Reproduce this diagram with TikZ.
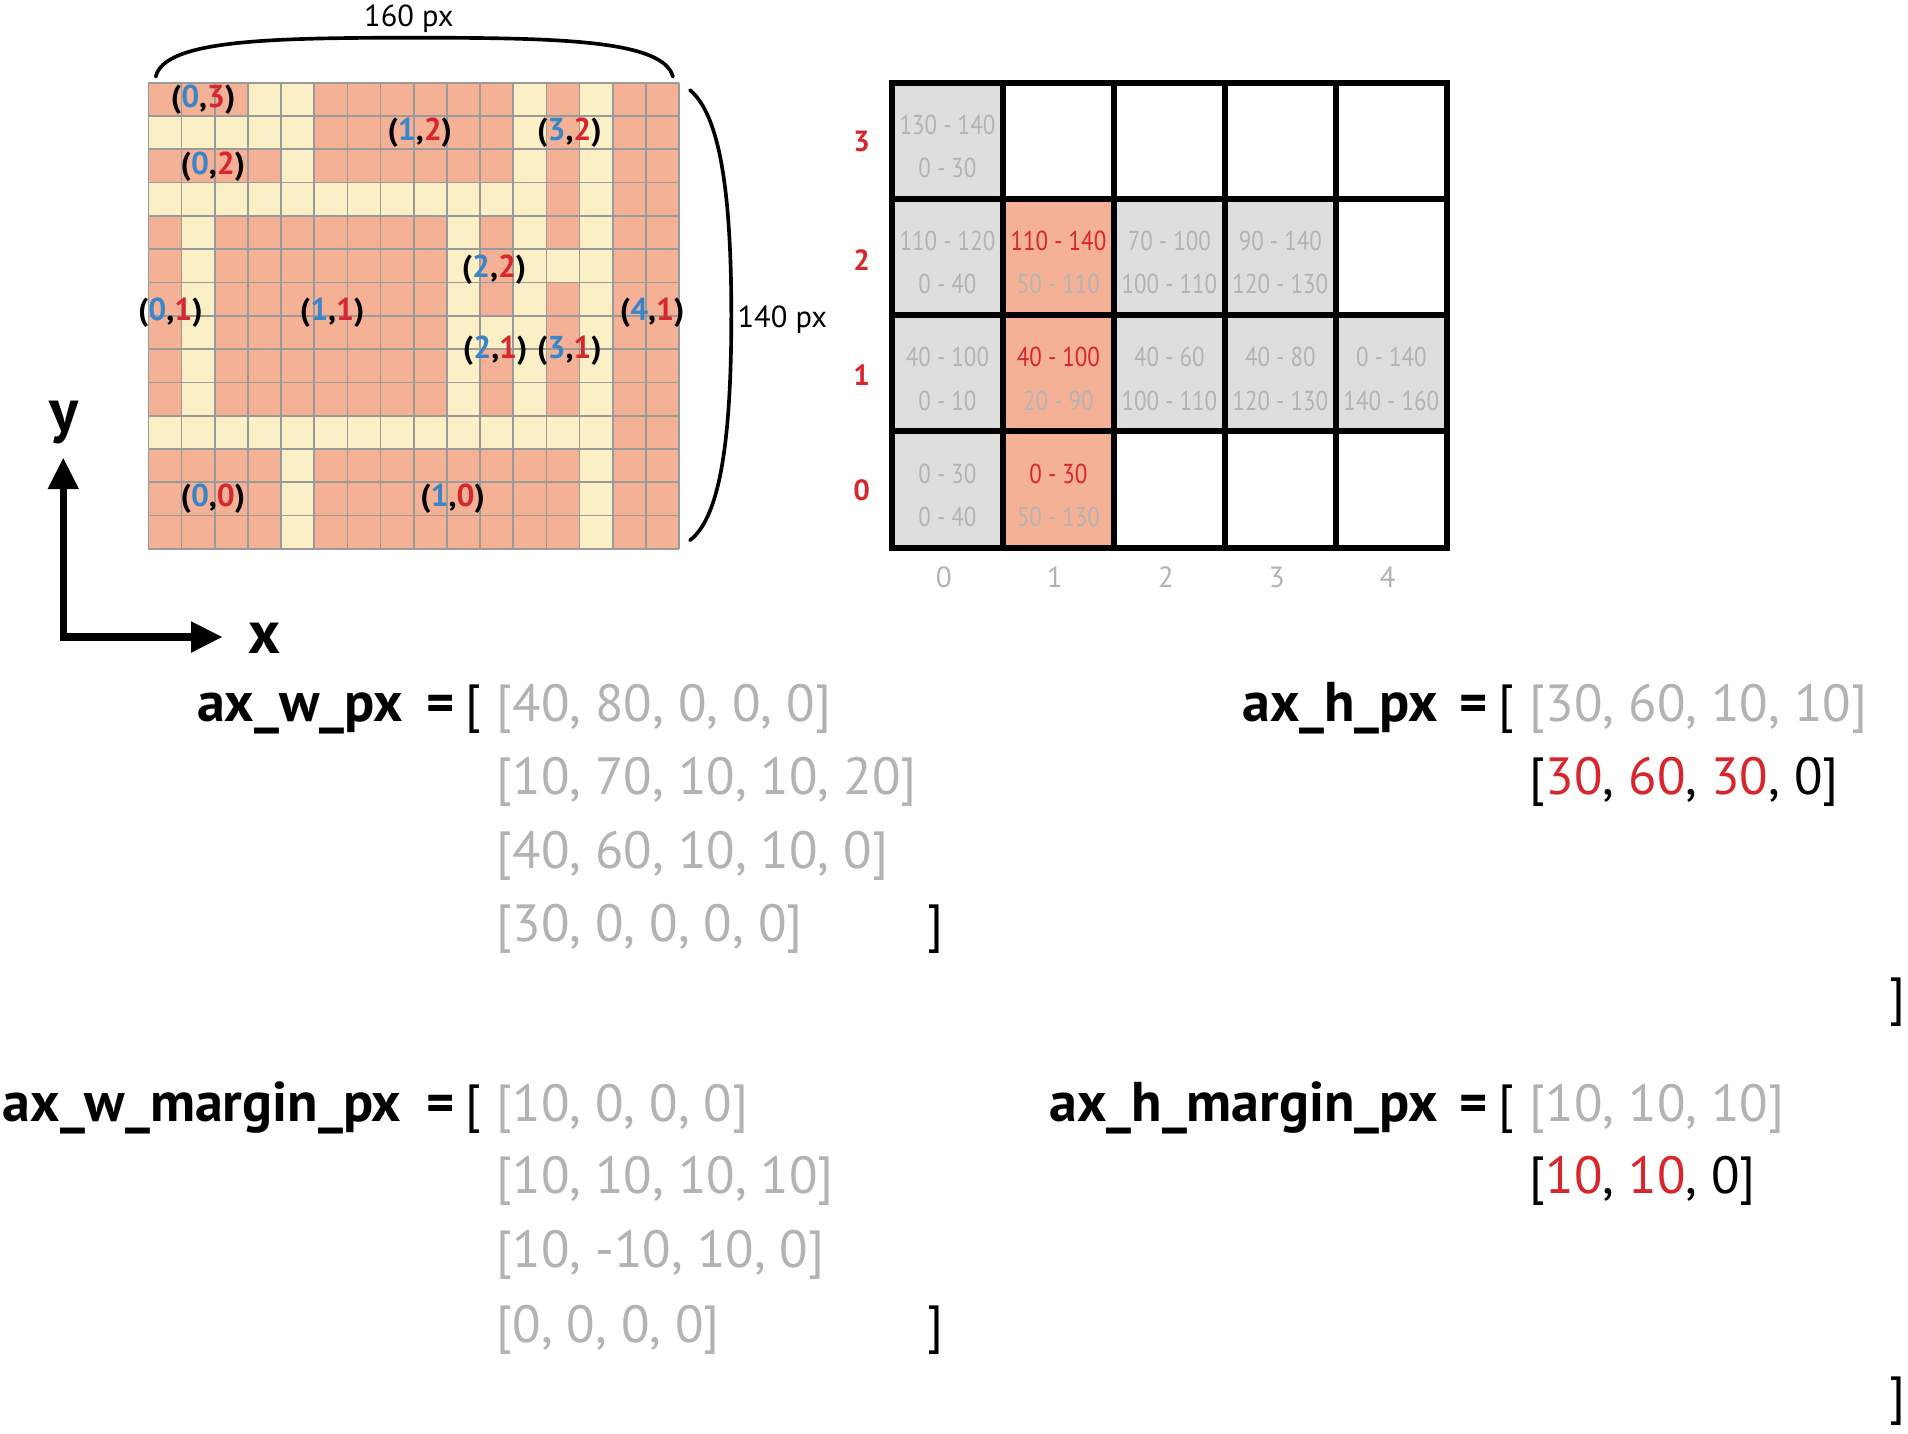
\documentclass[tikz,border=0pt]{standalone}
\usepackage{fontspec}
\setmainfont{PT Sans}
\newfontfamily\condf[FakeStretch=0.84]{PT Sans}
\usetikzlibrary{arrows.meta}
\definecolor{salm}{HTML}{F4B196}
\definecolor{yel}{HTML}{FAEFC5}
\definecolor{gline}{HTML}{9A9A9A}
\definecolor{gtxt}{HTML}{B3B3B3}
\definecolor{rtxt}{HTML}{D7262E}
\definecolor{btxt}{HTML}{3A85C8}
\definecolor{cgray}{HTML}{DDDEDD}
\newcommand\Bl[1]{\textcolor{btxt}{#1}}
\newcommand\Rd[1]{\textcolor{rtxt}{#1}}
\newcommand\lab[2]{(\Bl{#1},\Rd{#2})}
\begin{document}
\begin{tikzpicture}[x=1pt,y=-1pt,
  gridln/.style={draw=gline,line width=1.4pt},
  coordlab/.style={font=\fontsize{26}{26}\selectfont\bfseries,inner sep=0pt},
  dimlab/.style={font=\fontsize{25}{25}\selectfont,inner sep=0pt,anchor=base},
  axlab/.style={font=\fontsize{50}{50}\selectfont\bfseries,inner sep=0pt,anchor=base},
  celltxt/.style={font=\condf\fontsize{22.5}{22.5}\selectfont,text=gtxt,inner sep=0pt,anchor=base},
  rowlab/.style={font=\fontsize{24}{24}\selectfont\bfseries,text=rtxt,inner sep=0pt,anchor=base},
  collab/.style={font=\fontsize{24}{24}\selectfont,text=gtxt,inner sep=0pt,anchor=base},
  varname/.style={font=\fontsize{46}{46}\selectfont\bfseries,inner sep=0pt,anchor=base east},
  eqsign/.style={font=\fontsize{44}{44}\selectfont\bfseries,inner sep=0pt,anchor=base},
  brk/.style={font=\fontsize{43}{43}\selectfont,inner sep=0pt,anchor=base},
  listg/.style={font=\fontsize{43}{43}\selectfont,text=gtxt,inner sep=0pt,anchor=base west},
  listk/.style={font=\fontsize{43}{43}\selectfont,inner sep=0pt,anchor=base west},
  brace/.style={line width=3pt,line cap=round},
  tblline/.style={line width=5pt,line cap=rect},
]
\useasboundingbox (0,0) rectangle (1568,1178);
\fill[white] (0,0) rectangle (1568,1178);
% ---------- left pixel grid ----------
\def\cw{27.25}\def\ch{27.36}
\fill[salm] (122,68) rectangle (558,451);
\foreach \c/\t in {3/0,10/7,12/5} \fill[yel] ({122+\c*\cw},{68+\t*\ch}) rectangle ++(\cw,\ch);
\foreach \c in {0,...,4} \fill[yel] ({122+\c*\cw},{68+1*\ch}) rectangle ++(\cw,\ch);
\foreach \c in {0,...,11} \fill[yel] ({122+\c*\cw},{68+3*\ch}) rectangle ++(\cw,\ch);
\foreach \c in {0,...,13} \fill[yel] ({122+\c*\cw},{68+10*\ch}) rectangle ++(\cw,\ch);
\foreach \t in {0,...,13} \fill[yel] ({122+13*\cw},{68+\t*\ch}) rectangle ++(\cw,\ch);
\foreach \t in {0,...,10} \fill[yel] ({122+11*\cw},{68+\t*\ch}) rectangle ++(\cw,\ch);
\foreach \t in {4,...,9} {\fill[yel] ({122+1*\cw},{68+\t*\ch}) rectangle ++(\cw,\ch);
  \fill[yel] ({122+9*\cw},{68+\t*\ch}) rectangle ++(\cw,\ch);}
\foreach \t in {0,1,2,11,12,13} \fill[yel] ({122+4*\cw},{68+\t*\ch}) rectangle ++(\cw,\ch);
\foreach \i in {0,...,16} \draw[gridln] ({122+\i*\cw},68) -- ({122+\i*\cw},451);
\foreach \j in {0,...,14} \draw[gridln] (122,{68+\j*\ch}) -- (558,{68+\j*\ch});
% region labels
\node[coordlab] (l03) at (167,82) {\lab{0}{3}};
\node[coordlab] (l12) at (345,109) {\lab{1}{2}};
\node[coordlab] (l32) at (468,109) {\lab{3}{2}};
\node[coordlab] (l02) at (175,137) {\lab{0}{2}};
\node[coordlab] (l22) at (406,222) {\lab{2}{2}};
\node[coordlab] (l01) at (140,257) {\lab{0}{1}};
\node[coordlab] (l11) at (273,257) {\lab{1}{1}};
\node[coordlab] (l41) at (536,257) {\lab{4}{1}};
\node[coordlab] (l21) at (407,288) {\lab{2}{1}};
\node[coordlab] (l31) at (468,288) {\lab{3}{1}};
\node[coordlab] (l00) at (175,410) {\lab{0}{0}};
\node[coordlab] (l10) at (372,410) {\lab{1}{0}};
% braces
\draw[brace] (128,63) .. controls (135,33) and (220,31) .. (340,31) .. controls (460,31) and (545,33) .. (553,63);
\node[dimlab] (w160) at (336,22) {160 px};
\draw[brace] (567,74) .. controls (592,95) and (601,160) .. (601,259) .. controls (601,360) and (592,425) .. (567,444);
\node[dimlab,anchor=base west] (h140) at (606,269) {140 px};
% axes
\coordinate (ytip) at (52,376);
\coordinate (orig) at (52,523.5);
\coordinate (xtip) at (183,523.5);
\draw[line width=6pt,line join=miter,{Triangle[length=26pt,width=24pt]}-{Triangle[length=26pt,width=24pt]}] (ytip) -- (orig) -- (xtip);
\node[axlab] (ylab) at (53,355) {y};
\node[axlab] (xlab) at (217,537) {x};
% ---------- right table ----------
\def\tw{91.2}\def\th{95.5}
\foreach \c/\r in {0/3,0/2,2/2,3/2,0/1,2/1,3/1,4/1,0/0}
  \fill[cgray] ({733+\c*\tw},{68+(3-\r)*\th}) rectangle ++(\tw,\th);
\foreach \r in {0,1,2}
  \fill[salm] ({733+1*\tw},{68+(3-\r)*\th}) rectangle ++(\tw,\th);
\foreach \i in {0,...,5} \draw[tblline] ({733+\i*\tw},68) -- ({733+\i*\tw},450);
\foreach \j in {0,...,4} \draw[tblline] (733,{68+\j*\th}) -- (1189,{68+\j*\th});
\foreach \c/\r/\a/\b [count=\k] in {
  0/3/130 - 140/0 - 30,
  0/2/110 - 120/0 - 40,
  1/2/\Rd{110 - 140}/50 - 110,
  2/2/70 - 100/100 - 110,
  3/2/90 - 140/120 - 130,
  0/1/40 - 100/0 - 10,
  1/1/\Rd{40 - 100}/20 - 90,
  2/1/40 - 60/100 - 110,
  3/1/40 - 80/120 - 130,
  4/1/0 - 140/140 - 160,
  0/0/0 - 30/0 - 40,
  1/0/\Rd{0 - 30}/50 - 130}
{
  \node[celltxt] (cta\k) at ({733+(\c+0.5)*\tw},{68+(3-\r)*\th+42.5}) {\a};
  \node[celltxt] (ctb\k) at ({733+(\c+0.5)*\tw},{68+(3-\r)*\th+78}) {\b};
}
\foreach \r/\yy in {3/124.7,2/222,1/316.4,0/411} \node[rowlab] (rl\r) at (708,\yy) {\r};
\foreach \c in {0,...,4} \node[collab] (cl\c) at ({733+(\c+0.5)*\tw-3},483) {\c};
% ---------- lists ----------
\node[varname] (vw) at (331,593) {ax\_w\_px};
\node[eqsign] (eqw) at (362,593) {=};
\node[brk] (obw) at (389,593) {[};
\node[listg] (w1) at (408,593) {[40, 80, 0, 0, 0]};
\node[listg] (w2) at (408,653) {[10, 70, 10, 10, 20]};
\node[listg] (w3) at (408,714) {[40, 60, 10, 10, 0]};
\node[listg] (w4) at (408,774) {[30, 0, 0, 0, 0]};
\node[brk] (cbw) at (769,774) {]};

\node[varname] (vh) at (1182,593) {ax\_h\_px};
\node[eqsign] (eqh) at (1211,593) {=};
\node[brk] (obh) at (1238,593) {[};
\node[listg] (h1) at (1257,593) {[30, 60, 10, 10]};
\node[listk] (h2) at (1257,653) {[\Rd{30}, \Rd{60}, \Rd{30}, 0]};
\node[brk] (cbh) at (1559,834) {]};

\node[varname] (vwm) at (330,922) {ax\_w\_margin\_px};
\node[eqsign] (eqwm) at (362,922) {=};
\node[brk] (obwm) at (389,922) {[};
\node[listg] (wm1) at (408,922) {[10, 0, 0, 0]};
\node[listg] (wm2) at (408,981) {[10, 10, 10, 10]};
\node[listg] (wm3) at (408,1042) {[10, -10, 10, 0]};
\node[listg] (wm4) at (408,1103) {[0, 0, 0, 0]};
\node[brk] (cbwm) at (769,1103) {]};

\node[varname] (vhm) at (1182,922) {ax\_h\_margin\_px};
\node[eqsign] (eqhm) at (1211,922) {=};
\node[brk] (obhm) at (1238,922) {[};
\node[listg] (hm1) at (1257,922) {[10, 10, 10]};
\node[listk] (hm2) at (1257,981) {[\Rd{10}, \Rd{10}, 0]};
\node[brk] (cbhm) at (1559,1162) {]};
\end{tikzpicture}
\end{document}
